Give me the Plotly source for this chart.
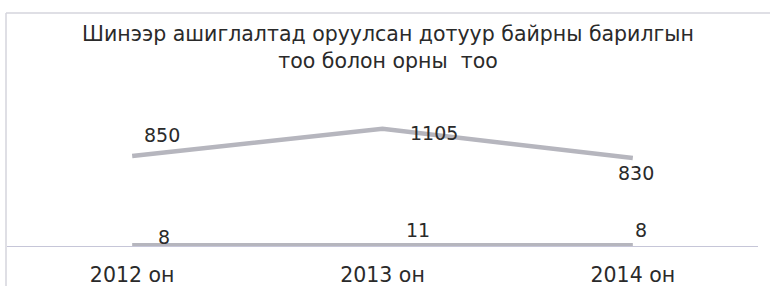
import plotly.graph_objects as go

categories = ["2012 он", "2013 он", "2014 он"]
beds = [850, 1105, 830]
buildings = [8, 11, 8]
title_text = "Шинээр ашиглалтад оруулсан дотуур байрны барилгын<br>тоо болон орны  тоо"

W, H = 770, 286
ml, mr, mt, mb = 7, 12, 100, 40
ph = H - mt - mb
pw = W - ml - mr

line_color = "#b6b6be"
text_color = "#2a2a2a"
font_family = "DejaVu Sans, sans-serif"

fig = go.Figure()
fig.add_trace(go.Scatter(x=categories, y=beds, mode="lines",
                         line=dict(color=line_color, width=4.5), hoverinfo="skip"))
fig.add_trace(go.Scatter(x=categories, y=buildings, mode="lines",
                         line=dict(color=line_color, width=4.5), hoverinfo="skip"))

bed_shifts = [(30, 21), (51, -4), (3, -15)]
bld_shifts = [(32, 8), (35, 15), (8, 15)]
annotations = []
for c, v, (dx, dy) in zip(categories, beds, bed_shifts):
    annotations.append(dict(x=c, y=v, xref="x", yref="y", text=str(v), showarrow=False,
                            xshift=dx, yshift=dy, font=dict(size=19, color=text_color, family=font_family)))
for c, v, (dx, dy) in zip(categories, buildings, bld_shifts):
    annotations.append(dict(x=c, y=v, xref="x", yref="y", text=str(v), showarrow=False,
                            xshift=dx, yshift=dy, font=dict(size=19, color=text_color, family=font_family)))

border_color = "#d4d4dc"
shapes = [
    dict(type="line", xref="paper", yref="paper", x0=-1 / pw, x1=-1 / pw,
         y0=(ph + mt - 13) / ph, y1=-mb / ph, line=dict(color=border_color, width=1.5)),
    dict(type="line", xref="paper", yref="paper", x0=-1 / pw, x1=(W - ml) / pw,
         y0=(ph + mt - 13) / ph, y1=(ph + mt - 13) / ph, line=dict(color=border_color, width=1.5)),
]

fig.update_layout(
    width=W, height=H, autosize=False,
    margin=dict(l=ml, r=mr, t=mt, b=mb),
    paper_bgcolor="white", plot_bgcolor="white",
    showlegend=False,
    title=dict(text=title_text, x=388 / W, xref="container", xanchor="center",
               y=1 - 41 / H, yref="container", yanchor="top",
               font=dict(size=20.5, color=text_color, family=font_family)),
    xaxis=dict(type="category", range=[-0.5, 2.5], showgrid=False, zeroline=False,
               showline=True, linecolor="#c6c6d8", linewidth=1, automargin=False,
               tickfont=dict(size=20.5, color=text_color, family=font_family),
               ticks="", ticklabelstandoff=10, fixedrange=True),
    yaxis=dict(range=[0, ph / 0.106], visible=False, fixedrange=True, automargin=False),
    annotations=annotations,
    shapes=shapes,
)

fig.write_html("out.html", config={"displayModeBar": False, "responsive": False},
               post_script="document.body.style.margin='0';document.body.style.overflow='hidden';")
